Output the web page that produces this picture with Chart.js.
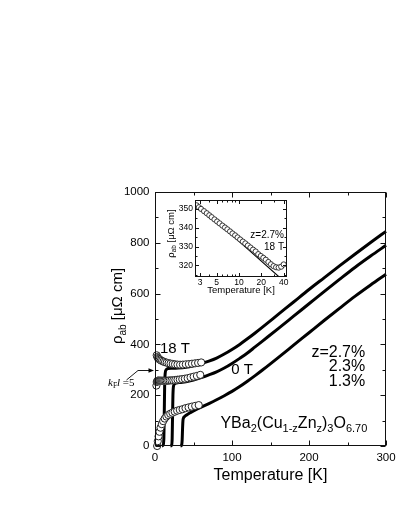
<!DOCTYPE html>
<html lang="en">
<head>
<meta charset="UTF-8">
<title>YBa2(Cu1-zZnz)3O6.70 resistivity</title>
<script src="https://cdn.jsdelivr.net/npm/chart.js"></script>
<style>
  body { margin: 0; background: #fff; }
  #wrap { position: relative; width: 409px; height: 529px; }
  #main { position: absolute; left: 0; top: 0; }
  #inset { position: absolute; left: 150px; top: 193px; }
</style>
</head>
<body>
<div id="wrap">
  <canvas id="main" width="409" height="529"></canvas>
  <canvas id="inset" width="150" height="108"></canvas>
</div>
<script>
// zero-field curves (solid lines), T in K, rho in uOhm cm
const t27 = [9, 10.5, 11.5, 12, 12.5, 13.2, 14.5, 17, 22, 30, 40, 50, 60, 70, 80, 90, 100, 110, 120, 130, 140, 160, 180, 200, 220, 240, 260, 280, 300];
const r27 = [0, 3, 30, 120, 230, 285, 300, 305, 306, 307, 310, 316, 324, 334, 346, 362, 380, 400, 422, 445, 469, 518, 567, 616, 663, 710, 756, 801, 845];
const t23 = [20, 21.5, 22.3, 22.8, 23.3, 24, 25.5, 28, 32, 40, 50, 60, 70, 80, 90, 100, 110, 120, 130, 140, 160, 180, 200, 220, 240, 260, 280, 300];
const r23 = [0, 3, 30, 120, 200, 235, 245, 248, 250, 253, 260, 269, 280, 292, 307, 325, 345, 366, 390, 414, 462, 511, 560, 609, 657, 704, 748, 790];
const t13 = [33, 34.5, 35.3, 35.8, 36.3, 37, 38.5, 41, 45, 50, 60, 70, 80, 90, 100, 110, 120, 130, 140, 160, 180, 200, 220, 240, 260, 280, 300];
const r13 = [0, 3, 25, 70, 100, 110, 116, 122, 130, 138, 153, 167, 182, 198, 215, 234, 255, 277, 300, 348, 397, 446, 495, 543, 590, 634, 676];

// 18 T data (open circles)
const hiT27 = [2.2, 3, 4, 5, 6.2, 7.6, 9.2, 11, 13, 15.2, 17.6, 20.2, 23, 26, 29.2, 32.6, 36.2, 40, 44, 48, 52, 56, 60];
const hiR27 = [357, 350, 346, 343, 340, 337, 335, 332, 330, 328, 326, 324.5, 323, 321.5, 320.5, 320, 320.5, 321.5, 322.5, 324, 325.5, 327, 329];
const hiT23 = [1.8, 2.3, 2.9, 3.5, 4.2, 5, 5.9, 6.9, 8, 9.2, 10.5, 12, 13.6, 15.3, 17.2, 19.2, 21.4, 23.8, 26.4, 29.2, 32.2, 35.4, 38.8, 42.4, 46.2, 50.2, 54.4, 58.8];
const hiR23 = [238, 252, 256, 257, 257, 257, 257, 257, 257, 257, 257, 257, 257, 257, 257.5, 258, 258.5, 259, 260, 261, 262, 263.5, 265, 267, 270, 273, 276, 280];
const hiT13 = [2.8, 3.6, 4.6, 5.8, 7.2, 8.8, 10.6, 12.6, 14.8, 17.2, 19.8, 22.6, 25.6, 28.8, 32.2, 35.8, 39.6, 43.6, 47.8, 52.2, 56.8];
const hiR13 = [0, 19, 38, 56, 72, 86, 98, 108, 116, 122, 127, 131, 135, 139, 142, 145, 149, 152, 155, 158, 161];

// inset: z=2.7%, 18 T, log temperature
const inT = [2.7, 2.9, 3.1, 3.4, 3.7, 4.0, 4.3, 4.7, 5.1, 5.5, 6.0, 6.5, 7.0, 7.6, 8.2, 8.9, 9.6, 10.4, 11.3, 12.2, 13.2, 14.3, 15.5, 16.8, 18.2, 19.7, 21.3, 23.0, 24.9, 27.0, 29.2, 31.6, 34.2, 37.0, 40.0];
const inR = [352.0, 351.0, 350.1, 348.9, 347.8, 346.7, 345.7, 344.5, 343.4, 342.4, 341.2, 340.2, 339.2, 338.1, 337.0, 336.0, 334.9, 333.8, 332.7, 331.7, 330.6, 329.5, 328.4, 327.4, 326.0, 325.0, 324.0, 323.0, 321.8, 320.6, 319.6, 319.0, 318.8, 319.3, 320.5];
const fitT = [2.6, 36];
const fitR = [353.5, 313.3];

// axis ticks
const xTicks = [0, 50, 100, 150, 200, 250, 300];
const yTicks = [0, 100, 200, 300, 400, 500, 600, 700, 800, 900, 1000];
const inTickX = [3, 4, 5, 6, 7, 8, 9, 10, 20, 30, 40];
const inLabelX = [3, 5, 10, 20, 40];
const inTickY = [315, 320, 325, 330, 335, 340, 345, 350];

const FONT = '"Liberation Sans", Arial, Helvetica, sans-serif';
const SERIF = '"Liberation Serif", "Times New Roman", serif';
Chart.defaults.font.family = FONT;
Chart.defaults.color = '#000';

function pts(xs, ys) { return xs.map((x, i) => ({ x: x, y: ys[i] })); }

function drawRuns(ctx, x, y, runs, align) {
  let w = 0;
  runs.forEach(r => { ctx.font = r.font; w += ctx.measureText(r.t).width; });
  let cx = align === 'center' ? x - w / 2 : align === 'right' ? x - w : x;
  ctx.textAlign = 'left';
  ctx.textBaseline = 'alphabetic';
  runs.forEach(r => {
    ctx.font = r.font;
    ctx.fillText(r.t, cx, y + (r.dy || 0));
    cx += ctx.measureText(r.t).width;
  });
}

function drawRotRuns(ctx, x, y, runs) {
  ctx.save();
  ctx.translate(x, y);
  ctx.rotate(-Math.PI / 2);
  drawRuns(ctx, 0, 0, runs, 'center');
  ctx.restore();
}

// frame + inward ticks on all four sides
function drawFrame(chart, major, minor) {
  const { ctx, chartArea: a, scales } = chart;
  ctx.save();
  ctx.strokeStyle = '#111';
  ctx.lineWidth = 1;
  const L = Math.round(a.left) + 0.5, R = Math.round(a.right) - 0.5;
  const T = Math.round(a.top) + 0.5, B = Math.round(a.bottom) - 0.5;
  ctx.strokeRect(L, T, R - L, B - T);
  ctx.beginPath();
  scales.x.ticks.forEach(t => {
    const p = Math.round(scales.x.getPixelForValue(t.value)) + 0.5;
    const len = t.label !== '' ? major : minor;
    ctx.moveTo(p, B); ctx.lineTo(p, B - len);
    ctx.moveTo(p, T); ctx.lineTo(p, T + len);
  });
  scales.y.ticks.forEach(t => {
    const p = Math.round(scales.y.getPixelForValue(t.value)) + 0.5;
    const len = t.label !== '' ? major : minor;
    ctx.moveTo(L, p); ctx.lineTo(L + len, p);
    ctx.moveTo(R, p); ctx.lineTo(R - len, p);
  });
  ctx.stroke();
  ctx.restore();
}

const mainDecor = {
  id: 'mainDecor',
  afterDraw(chart) {
    const { ctx, chartArea: a, scales: { x, y } } = chart;
    drawFrame(chart, 5, 3);
    ctx.save();
    ctx.fillStyle = '#000';
    // y title
    drawRotRuns(ctx, a.left - 33.5, (a.top + a.bottom) / 2 - 13, [
      { t: 'ρ', font: '15px ' + FONT },
      { t: 'ab', font: '10px ' + FONT, dy: 4 },
      { t: ' [μΩ cm]', font: '15px ' + FONT }
    ]);
    // field labels
    ctx.font = '15px ' + FONT;
    ctx.textAlign = 'center';
    ctx.textBaseline = 'middle';
    ctx.fillText('18 T', x.getPixelForValue(26), y.getPixelForValue(382));
    ctx.fillText('0 T', x.getPixelForValue(113), y.getPixelForValue(301));
    // Zn content
    ctx.font = '16px ' + FONT;
    ctx.textAlign = 'right';
    const zx = x.getPixelForValue(273);
    ctx.fillText('z=2.7%', zx, y.getPixelForValue(369));
    ctx.fillText('2.3%', zx, y.getPixelForValue(313));
    ctx.fillText('1.3%', zx, y.getPixelForValue(252));
    // compound
    const big = '16px ' + FONT, sm = '11px ' + FONT;
    drawRuns(ctx, x.getPixelForValue(85), y.getPixelForValue(70), [
      { t: 'YBa', font: big }, { t: '2', font: sm, dy: 4 },
      { t: '(Cu', font: big }, { t: '1-z', font: sm, dy: 4 },
      { t: 'Zn', font: big }, { t: 'z', font: sm, dy: 4 },
      { t: ')', font: big }, { t: '3', font: sm, dy: 4 },
      { t: 'O', font: big }, { t: '6.70', font: sm, dy: 4 }
    ], 'left');
    // k_F l = 5 arrow
    const ay = Math.round(y.getPixelForValue(299)) + 0.5;
    ctx.strokeStyle = '#000';
    ctx.lineWidth = 0.9;
    ctx.beginPath();
    ctx.moveTo(a.left - 28.5, ay + 9.5);
    ctx.lineTo(a.left - 17, ay);
    ctx.lineTo(a.left - 5, ay);
    ctx.stroke();
    ctx.beginPath();
    ctx.moveTo(a.left - 1, ay);
    ctx.lineTo(a.left - 6.5, ay - 2.3);
    ctx.lineTo(a.left - 6.5, ay + 2.3);
    ctx.closePath();
    ctx.fill();
    drawRuns(ctx, a.left - 47, ay + 15.5, [
      { t: 'k', font: 'italic 11px ' + SERIF },
      { t: 'F', font: '7.5px ' + SERIF, dy: 2 },
      { t: 'l', font: 'italic 11px ' + SERIF },
      { t: ' =5', font: '11px ' + SERIF }
    ], 'left');
    ctx.restore();
  }
};

const circles = {
  showLine: false, pointRadius: 3.6, pointBackgroundColor: '#fff',
  pointBorderColor: '#222', pointBorderWidth: 1, clip: false
};
const solid = {
  borderColor: '#000', borderWidth: 3, pointRadius: 0, fill: false,
  cubicInterpolationMode: 'monotone', clip: false
};

new Chart(document.getElementById('main'), {
  type: 'line',
  data: {
    datasets: [
      Object.assign({ label: '2.7% 18 T', data: pts(hiT27, hiR27) }, circles),
      Object.assign({ label: '2.3% 18 T', data: pts(hiT23, hiR23) }, circles),
      Object.assign({ label: '1.3% 18 T', data: pts(hiT13, hiR13) }, circles),
      Object.assign({ label: '2.7% 0 T', data: pts(t27, r27) }, solid),
      Object.assign({ label: '2.3% 0 T', data: pts(t23, r23) }, solid),
      Object.assign({ label: '1.3% 0 T', data: pts(t13, r13) }, solid)
    ]
  },
  options: {
    responsive: false,
    animation: false,
    devicePixelRatio: 1,
    layout: { padding: { left: 0, top: 192, right: 23, bottom: 0 } },
    plugins: { legend: { display: false }, tooltip: { enabled: false } },
    scales: {
      x: {
        type: 'linear', min: 0, max: 300,
        afterFit: s => { s.height = 83; },
        afterBuildTicks: s => { s.ticks = xTicks.map(v => ({ value: v })); },
        grid: { display: false, drawTicks: false },
        border: { display: false },
        ticks: { padding: 5, maxRotation: 0, autoSkip: false, font: { size: 11.5 },
          callback: v => v % 100 === 0 ? String(v) : '' },
        title: { display: true, text: 'Temperature [K]', font: { size: 16 },
          padding: { top: 0, bottom: 43.4 } }
      },
      y: {
        type: 'linear', min: 0, max: 1000,
        afterFit: s => { s.width = 155; },
        afterBuildTicks: s => { s.ticks = yTicks.map(v => ({ value: v })); },
        grid: { display: false, drawTicks: false },
        border: { display: false },
        ticks: { padding: 5.5, autoSkip: false, font: { size: 11.5 },
          callback: v => v % 200 === 0 ? String(v) : '' }
      }
    }
  },
  plugins: [mainDecor]
});

const insetDecor = {
  id: 'insetDecor',
  beforeDatasetsDraw(chart) {
    const { ctx, chartArea: a } = chart;
    ctx.save();
    ctx.fillStyle = '#fff';
    ctx.fillRect(a.left, a.top, a.right - a.left, a.bottom - a.top);
    ctx.restore();
  },
  afterDraw(chart) {
    const { ctx, chartArea: a, scales: { y } } = chart;
    drawFrame(chart, 3.5, 2);
    ctx.save();
    ctx.fillStyle = '#000';
    drawRotRuns(ctx, a.left - 21.5, (a.top + a.bottom) / 2 - 5, [
      { t: 'ρ', font: '9.5px ' + FONT },
      { t: 'ab', font: '6.5px ' + FONT, dy: 2.5 },
      { t: ' [μΩ cm]', font: '9.5px ' + FONT }
    ]);
    ctx.font = '10px ' + FONT;
    ctx.textAlign = 'right';
    ctx.textBaseline = 'middle';
    ctx.fillText('z=2.7%', a.right - 3, y.getPixelForValue(336));
    ctx.fillText('18 T', a.right - 3, y.getPixelForValue(329.7));
    ctx.restore();
  }
};

new Chart(document.getElementById('inset'), {
  type: 'line',
  data: {
    datasets: [
      { label: 'z=2.7% 18 T', data: pts(inT, inR), showLine: false, pointRadius: 2.6,
        pointBackgroundColor: '#fff', pointBorderColor: '#222', pointBorderWidth: 0.9 },
      { label: 'ln T fit', data: pts(fitT, fitR), borderColor: '#000', borderWidth: 1.1,
        pointRadius: 0, fill: false }
    ]
  },
  options: {
    responsive: false,
    animation: false,
    devicePixelRatio: 1,
    layout: { padding: { left: 0, top: 6, right: 13, bottom: 0 } },
    plugins: { legend: { display: false }, tooltip: { enabled: false } },
    scales: {
      x: {
        type: 'logarithmic', min: 2.57, max: 44.3,
        afterFit: s => { s.height = 24; },
        afterBuildTicks: s => { s.ticks = inTickX.map(v => ({ value: v })); },
        grid: { display: false, drawTicks: false },
        border: { display: false },
        ticks: { padding: 1, maxRotation: 0, autoSkip: false, font: { size: 8.5 },
          callback: v => inLabelX.includes(v) ? String(v) : '' },
        title: { display: true, text: 'Temperature [K]', font: { size: 9.5 },
          padding: { top: 0, bottom: 5.3 } }
      },
      y: {
        type: 'linear', min: 313.8, max: 354.8,
        afterFit: s => { s.width = 45; },
        afterBuildTicks: s => { s.ticks = inTickY.map(v => ({ value: v })); },
        grid: { display: false, drawTicks: false },
        border: { display: false },
        ticks: { padding: 2, autoSkip: false, font: { size: 8.5 },
          callback: v => v % 10 === 0 ? String(v) : '' }
      }
    }
  },
  plugins: [insetDecor]
});
</script>
</body>
</html>
